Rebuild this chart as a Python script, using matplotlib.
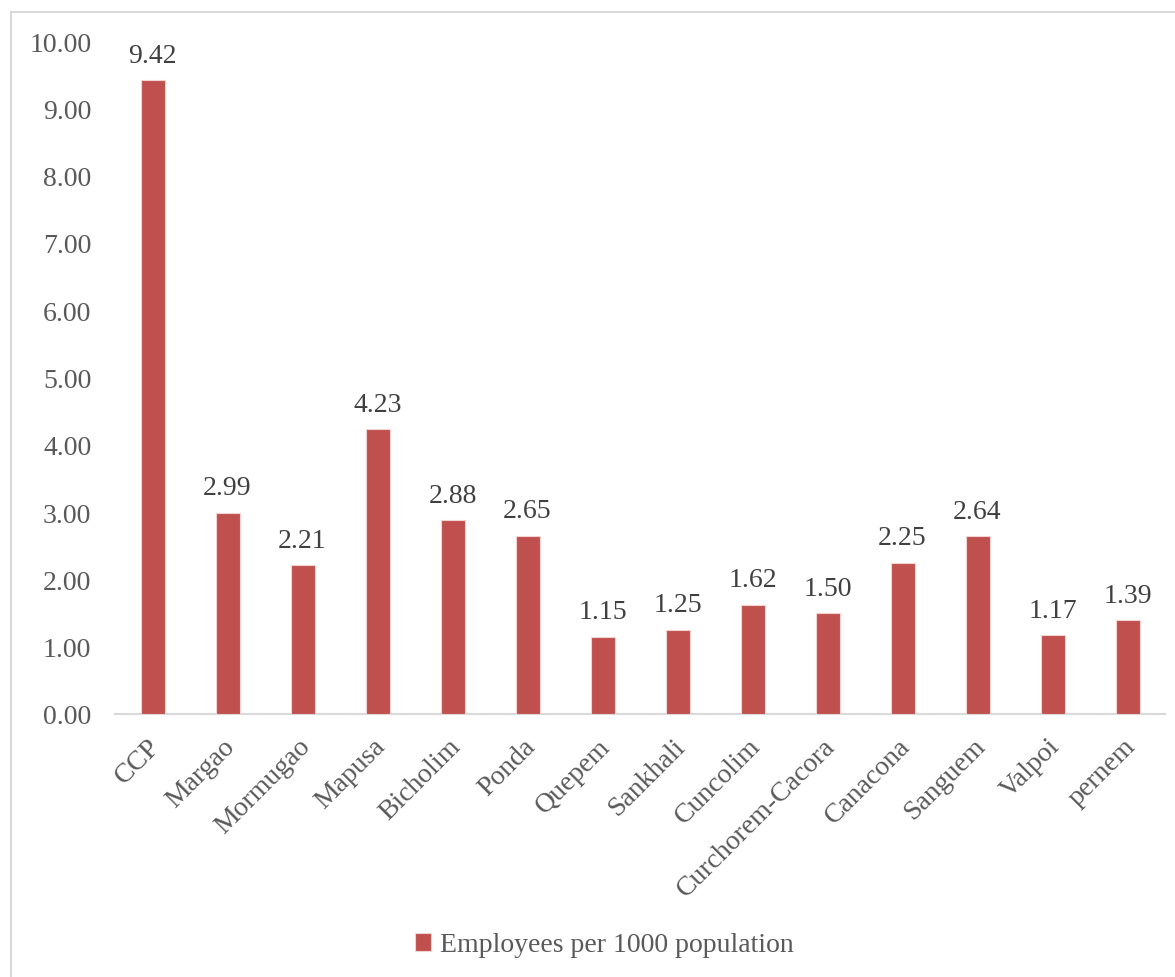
import matplotlib.pyplot as plt
from matplotlib.patches import Rectangle
from matplotlib.transforms import ScaledTranslation

# Values
towns = ['CCP', 'Margao', 'Mormugao', 'Mapusa', 'Bicholim', 'Ponda', 'Quepem',
         'Sankhali', 'Cuncolim', 'Curchorem-Cacora', 'Canacona', 'Sanguem',
         'Valpoi', 'pernem']
employees = [9.42, 2.99, 2.21, 4.23, 2.88, 2.65, 1.15, 1.25, 1.62, 1.50,
             2.25, 2.64, 1.17, 1.39]
yticks = [0, 1, 2, 3, 4, 5, 6, 7, 8, 9, 10]

plt.rcParams['font.family'] = ['Liberation Serif', 'DejaVu Serif']

fig = plt.figure(figsize=(11.75, 9.78), dpi=100)
ax = fig.add_axes([115 / 1175, 1 - 715 / 978, 1050 / 1175, (715 - 42) / 978])

x = range(len(towns))
bars = ax.bar(x, employees, width=0.32, color='#C0504D', edgecolor='#F2D3D2',
              linewidth=0.8, label='Employees per 1000 population', zorder=3)

for xi, v in zip(x, employees):
    ax.annotate(f'{v:.2f}', (xi, v), xytext=(0, 9), textcoords='offset points',
                ha='center', va='bottom', fontsize=20, color='#404040')

ax.set_xlim(-0.5, len(towns) - 0.5)
ax.set_ylim(0, 10)
ax.set_yticks(yticks)
ax.set_yticklabels([f'{t:.2f}' for t in yticks])
ax.set_xticks(list(x))
ax.set_xticklabels(towns, rotation=45, ha='right', rotation_mode='anchor')
ax.tick_params(axis='both', length=0, labelsize=20, colors='#595959')
ax.tick_params(axis='y', pad=17)
ax.tick_params(axis='x', pad=14)

# nudge the rotated labels a little left, as in the original
shift = ScaledTranslation(-5 / 100, 0, fig.dpi_scale_trans)
for lbl in ax.get_xticklabels():
    lbl.set_transform(lbl.get_transform() + shift)

for side in ['top', 'right', 'left']:
    ax.spines[side].set_visible(False)
ax.spines['bottom'].set_color('#D9D9D9')
ax.spines['bottom'].set_linewidth(1.5)

fig.legend(handles=[bars], labels=['Employees per 1000 population'],
           loc='center', bbox_to_anchor=(0.514, 1 - 946 / 978), frameon=False,
           fontsize=20, labelcolor='#595959', handlelength=0.6, handleheight=0.6,
           handletextpad=0.3)

# outer chart frame (cut off at right and bottom in the original)
fig.patches.append(Rectangle((11 / 1175, -0.05), 1.2, 1.05 - 13 / 978,
                             transform=fig.transFigure, fill=False,
                             edgecolor='#D9D9D9', linewidth=1.5))

fig.savefig('out.png', dpi=100)
